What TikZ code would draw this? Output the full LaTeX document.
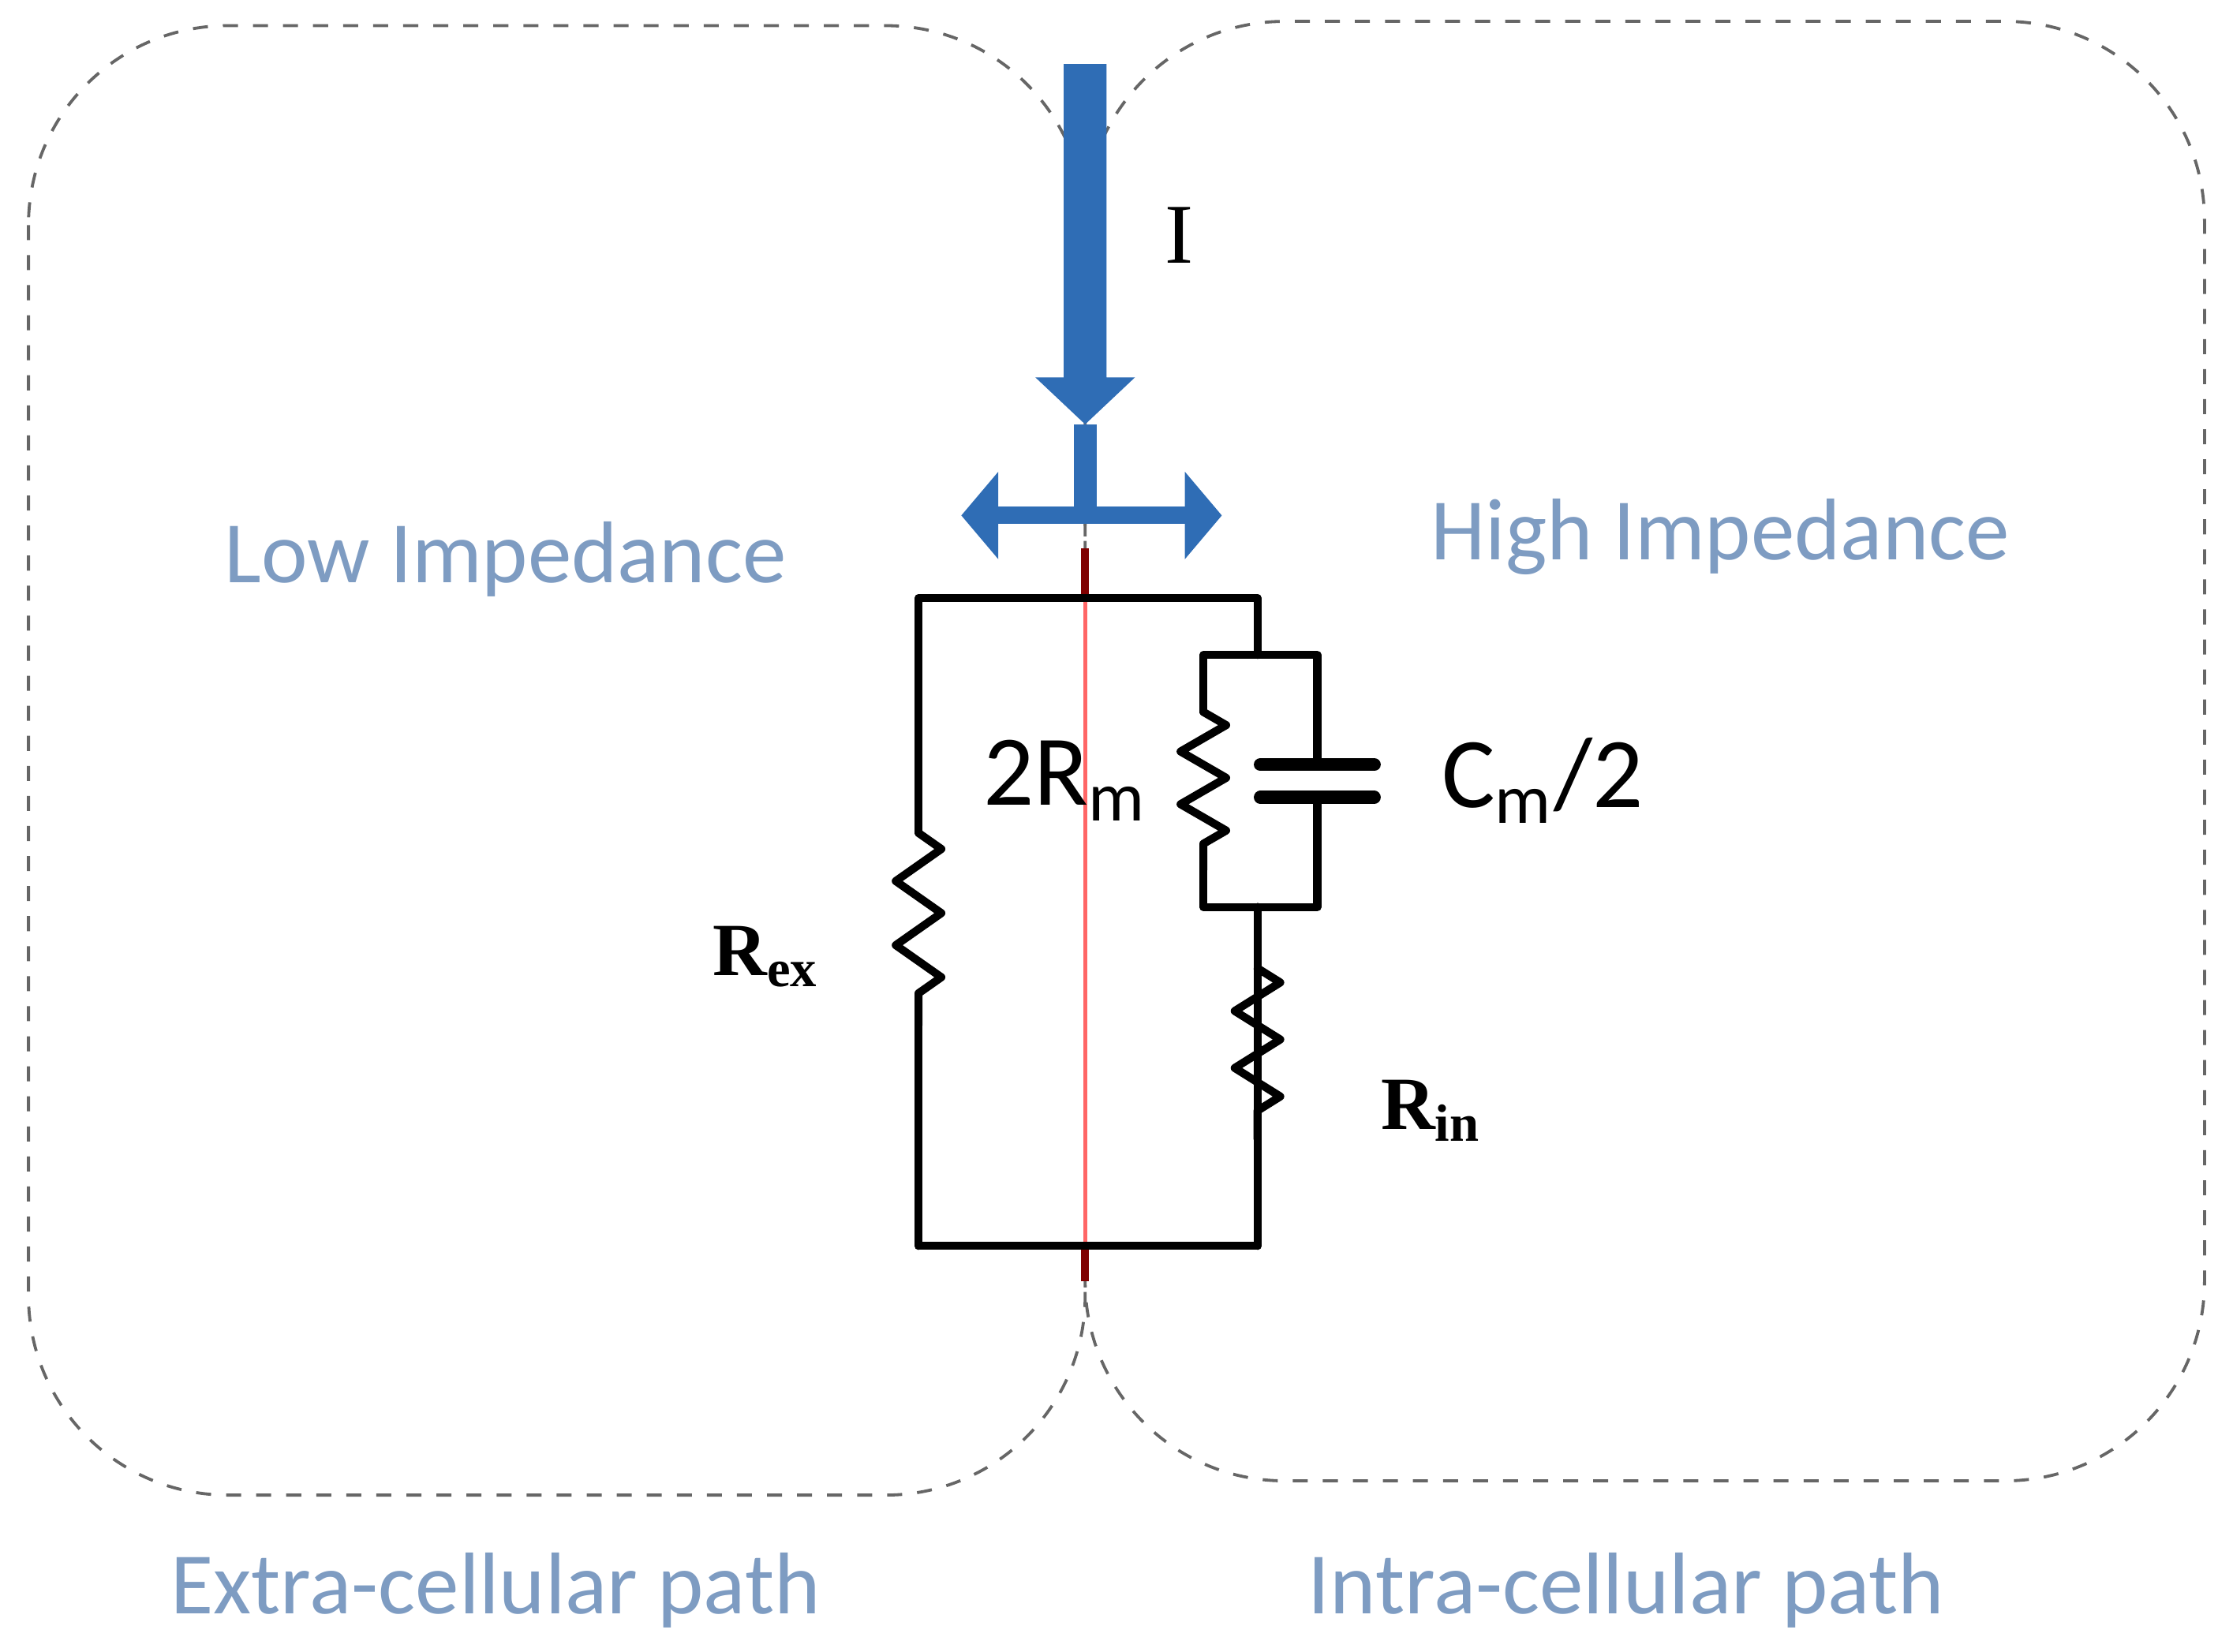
\documentclass[tikz,border=0pt]{standalone}
\usepackage{fontspec}
\setmainfont{Carlito}
\newfontfamily\serifface{Liberation Serif}
\usetikzlibrary{decorations.pathmorphing,arrows.meta}
\definecolor{arrowblue}{HTML}{2F6DB5}
\definecolor{labelblue}{HTML}{7E9CC2}
\tikzset{
  region/.style={draw=gray!80!black,dashed,line width=0.6pt,rounded corners=1.4cm},
  wire/.style={line width=1.6pt,line cap=round,line join=round},
  res/.style={wire,decoration={zigzag,segment length=#1,amplitude=1.6mm},decorate},
  side/.style={text=labelblue,font=\fontsize{17.5}{20}\selectfont},
  part/.style={font=\fontsize{20}{22}\selectfont},
  rlab/.style={font=\serifface\bfseries\fontsize{15}{17}\selectfont}
}
\begin{document}
\begin{tikzpicture}[x=0.01cm,y=-0.01cm]
\useasboundingbox (0,0) rectangle (1568,1160);
% dashed regions
\draw[region] (20,18) rectangle (762,1050);
\draw[region] (762,15) rectangle (1548,1040);
% current arrow
\fill[arrowblue] (747,45) -- (777,45) -- (777,265) -- (797,265) -- (762,298) -- (727,265) -- (747,265) -- cycle;
\fill[arrowblue] (754,298) rectangle (770,360);
\draw[arrowblue,line width=3.5pt,{Triangle[length=2.6mm,width=6mm]}-{Triangle[length=2.6mm,width=6mm]}] (675,362) -- (858,362);
\node[font=\serifface\fontsize{17}{19}\selectfont] (I) at (828,165) {I};
% circuit nodes
\coordinate (tl) at (645,420);
\coordinate (tr) at (883,420);
\coordinate (bl) at (645,875);
\coordinate (br) at (883,875);
\coordinate (pt) at (883,460);
\coordinate (pb) at (883,637);
% red axis
\draw[red!60,line width=0.8pt] (762,385) -- (762,900);
\draw[red!50!black,line width=1.6pt] (762,385) -- (762,420);
\draw[red!50!black,line width=1.6pt] (762,875) -- (762,900);
% outer loop
\draw[wire] (bl) -- (645,720);
\draw[wire] (645,585) -- (tl) -- (tr) -- (pt);
\draw[wire] (pb) -- (br) -- (bl);
\draw[res=4.5mm] (645,585) -- (645,720);
% parallel block
\draw[wire] (845,500) -- (845,460) -- (925,460) -- (925,537);
\draw[wire] (925,560) -- (925,637) -- (845,637) -- (845,611);
\draw[res=3.7mm] (845,500) -- (845,611);
\draw[wire,line width=2.6pt] (885,537) -- (965,537);
\draw[wire,line width=2.6pt] (885,560) -- (965,560);
% inner resistor
\draw[wire] (883,637) -- (883,680);
\draw[res=4mm] (883,680) -- (883,800);
\draw[wire] (883,800) -- (883,875);
% labels
\node[part,anchor=east] (Rm) at (818,548) {2R\textsubscript{m}};
\node[part,anchor=west] (Cm) at (1000,548) {C\textsubscript{m}/2};
\node[rlab] (Rex) at (538,672) {R\textsubscript{ex}};
\node[rlab] (Rin) at (1005,780) {R\textsubscript{in}};
\node[side] (low) at (355,393) {Low Impedance};
\node[side] (high) at (1208,377) {High Impedance};
\node[side] (extra) at (348,1117) {Extra-cellular path};
\node[side] (intra) at (1142,1117) {Intra-cellular path};
\end{tikzpicture}
\end{document}
